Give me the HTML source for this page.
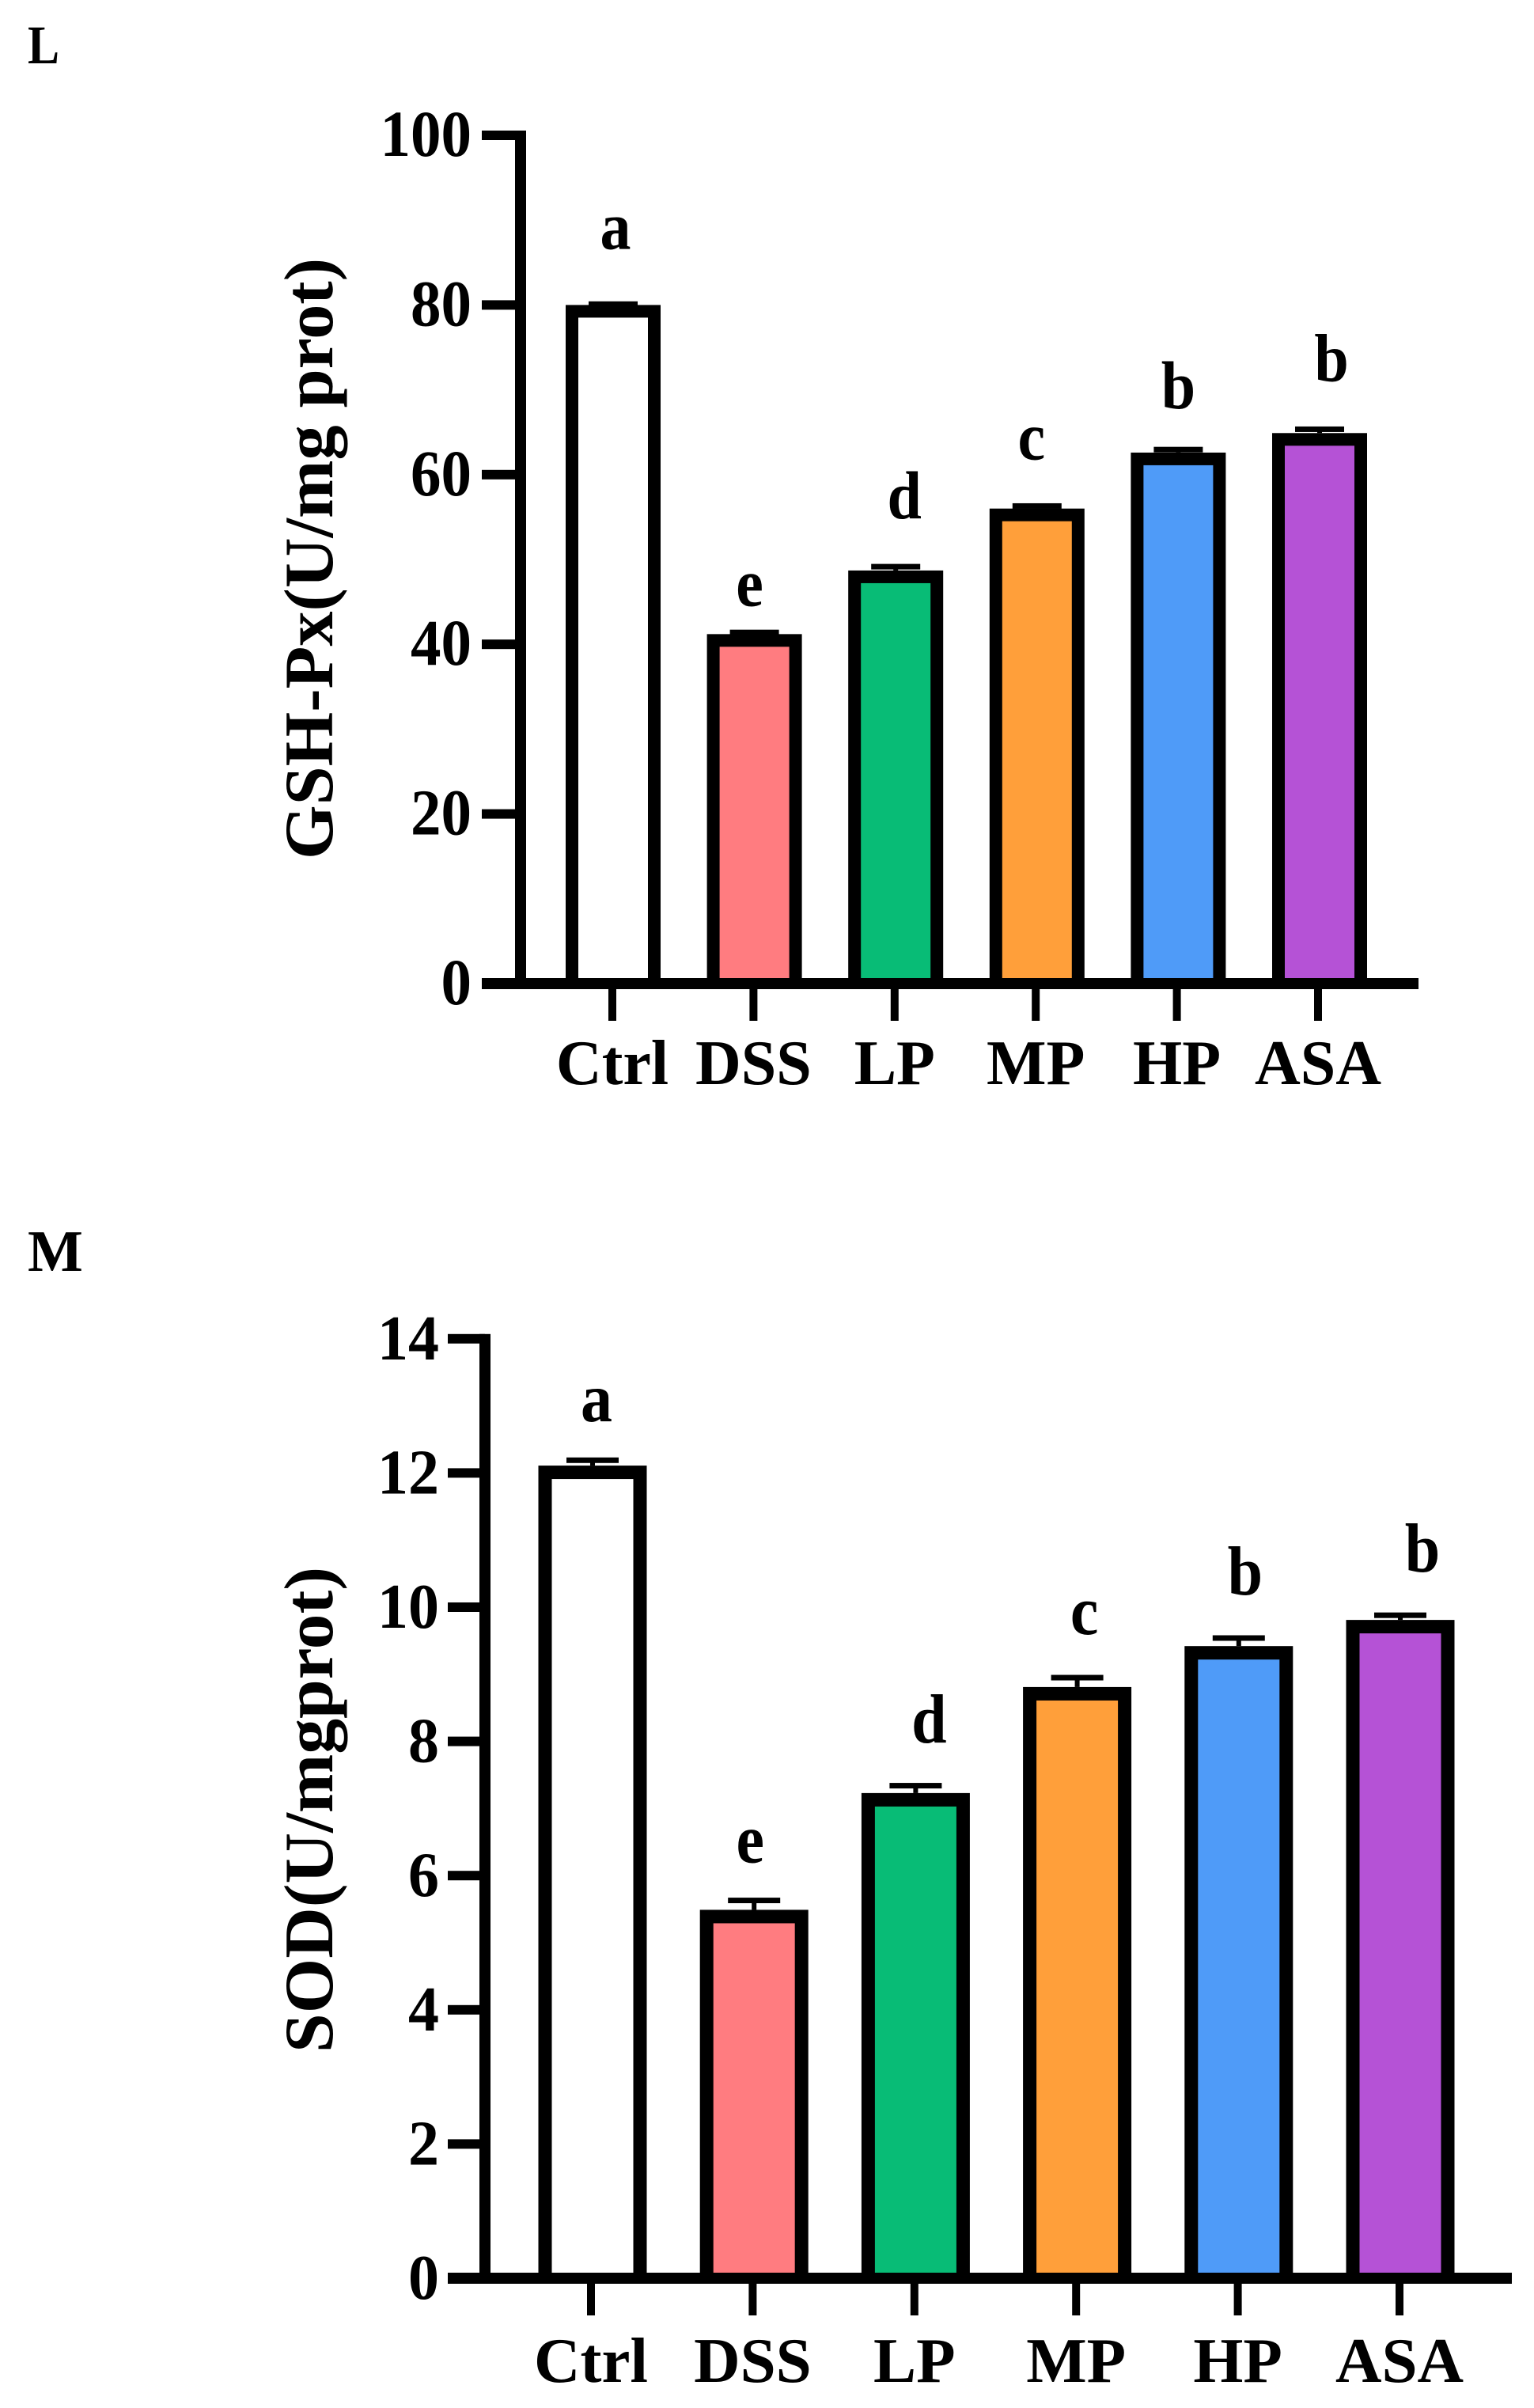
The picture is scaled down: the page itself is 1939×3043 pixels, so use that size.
<!DOCTYPE html>
<html>
<head>
<meta charset="utf-8">
<title>GSH-Px and SOD bar charts</title>
<style>
  html, body { margin: 0; padding: 0; background: #fff; }
  svg { display: block; }
  text { font-family: "Liberation Serif", serif; font-weight: bold; fill: #000; }
  .bar-0 { fill: #ffffff; }
  .bar-1 { fill: #ff7c80; }
  .bar-2 { fill: #08bc76; }
  .bar-3 { fill: #ff9f3a; }
  .bar-4 { fill: #4f9bf8; }
  .bar-5 { fill: #b552d6; }
</style>
</head>
<body>
<svg id="figure" width="1939" height="3043" viewBox="0 0 1939 3043" xmlns="http://www.w3.org/2000/svg">
  <rect x="0" y="0" width="1939" height="3043" fill="#fff"/>
</svg>
<script>
const categories = ["Ctrl", "DSS", "LP", "MP", "HP", "ASA"];

const gshTicks = [0, 20, 40, 60, 80, 100];
const gshValues = [80.0, 41.2, 48.7, 56.0, 62.6, 64.9];
const gshErrors = [0.1, 0.2, 0.45, 0.3, 0.35, 0.45];
const gshLetters = ["a", "e", "d", "c", "b", "b"];

const sodTicks = [0, 2, 4, 6, 8, 10, 12, 14];
const sodValues = [12.11, 5.49, 7.23, 8.81, 9.42, 9.81];
const sodErrors = [0.08, 0.14, 0.11, 0.14, 0.12, 0.07];
const sodLetters = ["a", "e", "d", "c", "b", "b"];

const NS = "http://www.w3.org/2000/svg";
const root = document.getElementById("figure");

function rect(parent, x, y, w, h, fill) {
  const r = document.createElementNS(NS, "rect");
  r.setAttribute("x", x);
  r.setAttribute("y", y);
  r.setAttribute("width", w);
  r.setAttribute("height", h);
  if (fill) r.setAttribute("fill", fill);
  parent.appendChild(r);
  return r;
}

function label(parent, str, x, y, size, anchor, sy) {
  const t = document.createElementNS(NS, "text");
  t.textContent = str;
  t.setAttribute("font-size", size);
  t.setAttribute("text-anchor", anchor);
  t.setAttribute("transform", "translate(" + x + " " + y + ") scale(1 " + sy + ")");
  parent.appendChild(t);
  return t;
}

function drawChart(c) {
  const g = document.createElementNS(NS, "g");
  
  
  root.appendChild(g);

  const yOf = v => c.y0 - (v - c.yMin) * c.pxPerUnit;
  const xOf = i => c.x0 + i * c.step;

  // panel letter
  const panel = label(g, c.panel, 35, c.panelY, c.panelSize, "start", c.panelScale);
  
  

  // y title
  const title = document.createElementNS(NS, "text");
  title.textContent = c.yTitle;
  title.setAttribute("font-size", 88);
  title.setAttribute("text-anchor", "middle");
  title.setAttribute("textLength", c.titleLen);
  title.setAttribute("lengthAdjust", "spacingAndGlyphs");
  title.setAttribute("transform", "translate(420 " + c.titleY + ") rotate(-90)");
  
  
  g.appendChild(title);

  // bars
  c.values.forEach((v, i) => {
    const top = yOf(v);
    const bottom = c.y0;
    const cx = xOf(i);
    const sw = c.barStroke;
    const outer = rect(g, cx - c.barW / 2, top, c.barW, bottom - top, "#000");
    
    
    const fill = rect(g, cx - c.barW / 2 + sw, top + sw, c.barW - 2 * sw, bottom - top - sw);
    fill.setAttribute("class", "bar-" + i);
    
    

    const capY = yOf(v + c.errors[i]);
    const stem = rect(g, cx - 3, capY, 6, top - capY, "#000");
    
    
    const cap = rect(g, cx - c.capW / 2, capY - 3.5, c.capW, 7, "#000");
    
    

    const sig = label(g, c.letters[i], cx + c.letterDx[i], top - c.letterGap[i], c.letterSize, "middle", 1.1);
    
    
  });

  // y axis
  const axisY = rect(g, c.axisX - 7, yOf(c.yMax) - 6, 14, c.y0 - yOf(c.yMax) + 13, "#000");
  
  

  c.ticks.forEach(t => {
    const y = yOf(t);
    const tk = rect(g, c.tickLeft, y - 6, c.axisX - c.tickLeft, 12, "#000");
    
    
    const tl = label(g, String(t), c.tickLabelRight, y + 26, c.tickSize, "end", c.tickScale);
    
    
  });

  // x axis
  const axisX = rect(g, c.tickLeft, c.y0 - 7, c.xAxisRight - c.tickLeft, 14, "#000");
  
  

  categories.forEach((name, i) => {
    const cx = c.xt0 + i * c.xtStep;
    const tk = rect(g, cx - 5, c.y0, 10, c.xTickEnd - c.y0, "#000");
    
    
    const tl = label(g, name, cx, c.xLabelY, c.xLabelSize, "middle", 1);
    
    
  });
}

drawChart({
  name: "gsh-px-chart", panel: "L", panelY: 80, panelSize: 60, panelScale: 1.15,
  yTitle: "GSH-Px(U/mg prot)", titleLen: 760, titleY: 706,
  values: gshValues, errors: gshErrors, letters: gshLetters, ticks: gshTicks,
  yMin: 0, yMax: 100, y0: 1243, pxPerUnit: 10.72,
  x0: 775, step: 178.6, barW: 120, barStroke: 16, capW: 62,
  xt0: 774, xtStep: 178.4, axisX: 658, tickLeft: 609, tickLabelRight: 596,
  tickSize: 77, tickScale: 1.08, xAxisRight: 1793, xTickEnd: 1290,
  xLabelY: 1370, xLabelSize: 80, letterSize: 78,
  letterDx: [3, -6, 11, -7, 0, 15], letterGap: [71, 36, 66, 62, 56, 66]
});

drawChart({
  name: "sod-chart", panel: "M", panelY: 1606, panelSize: 74, panelScale: 1,
  yTitle: "SOD(U/mgprot)", titleLen: 614, titleY: 2287,
  values: sodValues, errors: sodErrors, letters: sodLetters, ticks: sodTicks,
  yMin: 0, yMax: 14, y0: 2879, pxPerUnit: 84.8,
  x0: 749, step: 204.2, barW: 137, barStroke: 17, capW: 66,
  xt0: 747, xtStep: 204.4, axisX: 613, tickLeft: 566, tickLabelRight: 555,
  tickSize: 78, tickScale: 1.03, xAxisRight: 1911, xTickEnd: 2926,
  xLabelY: 3010, xLabelSize: 81, letterSize: 80,
  letterDx: [5, -5, 17, 9, 8, 28], letterGap: [56, 60, 64, 67, 65, 61]
});
</script>
</body>
</html>
